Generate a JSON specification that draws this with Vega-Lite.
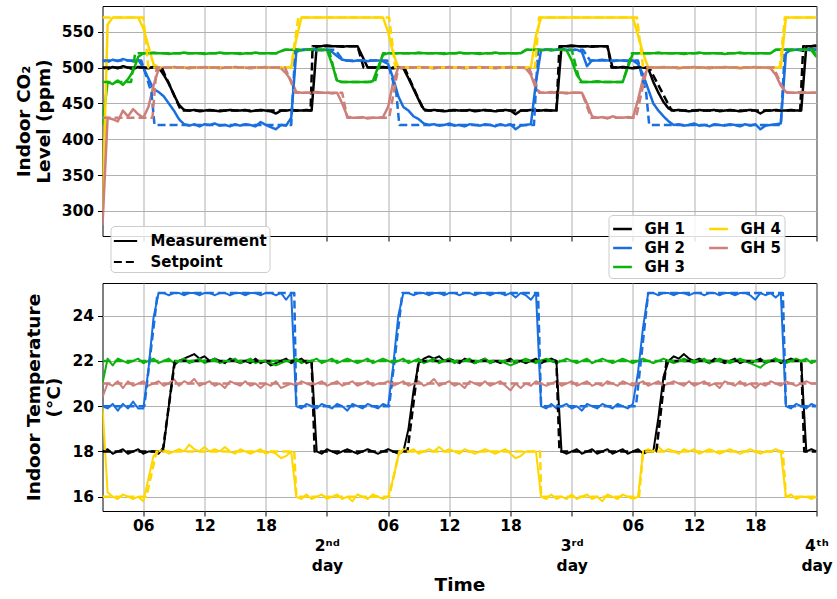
{
"$schema": "https://vega.github.io/schema/vega-lite/v6.json",
"padding": {"left": 13.5, "top": 5, "right": 0, "bottom": 0},
"bounds": "flush",
"spacing": 47,
"config": {
  "font": "DejaVu Sans",
  "view": {"stroke": "black", "strokeWidth": 1},
  "axis": {"labelFont": "DejaVu Sans", "labelFontWeight": "bold", "labelFontSize": 15.5, "labelColor": "black", "titleFont": "DejaVu Sans", "titleFontWeight": "bold", "titleFontSize": 18.5, "titleColor": "black", "gridColor": "#b0b0b0", "gridWidth": 1, "gridOpacity": 1, "tickColor": "black", "tickSize": 5, "tickWidth": 1, "domain": false, "labelPadding": 4, "labelOverlap": false, "labelFlush": false, "labelBound": false},
  "line": {"strokeCap": "butt", "strokeJoin": "round"}
},
"resolve": {"legend": {"color": "independent", "strokeDash": "independent"}},
"datasets": {
"co2": [
{"t":2,"GH 1":500,"GH 2":510,"GH 3":420,"GH 4":300,"GH 5":280},
{"t":2.5,"GH 1":498,"GH 2":508,"GH 3":480,"GH 4":560,"GH 5":430},
{"t":3,"GH 1":501,"GH 2":511,"GH 3":477,"GH 4":570,"GH 5":428},
{"t":3.5,"GH 1":499,"GH 2":509,"GH 3":482,"GH 4":570,"GH 5":425},
{"t":4,"GH 1":502,"GH 2":512,"GH 3":476,"GH 4":570,"GH 5":440},
{"t":4.5,"GH 1":500,"GH 2":510,"GH 3":484,"GH 4":570,"GH 5":432},
{"t":5,"GH 1":498,"GH 2":509,"GH 3":495,"GH 4":570,"GH 5":442},
{"t":5.5,"GH 1":501,"GH 2":511,"GH 3":515,"GH 4":570,"GH 5":435},
{"t":6,"GH 1":500,"GH 2":500,"GH 3":520,"GH 4":555,"GH 5":430},
{"t":6.5,"GH 1":499,"GH 2":485,"GH 3":520,"GH 4":530,"GH 5":445},
{"t":7,"GH 1":501,"GH 2":470,"GH 3":521,"GH 4":505,"GH 5":475},
{"t":7.5,"GH 1":500,"GH 2":466,"GH 3":520,"GH 4":500,"GH 5":498},
{"t":8,"GH 1":490,"GH 2":460,"GH 3":520,"GH 4":500,"GH 5":500},
{"t":8.5,"GH 1":478,"GH 2":450,"GH 3":519,"GH 4":500,"GH 5":500},
{"t":9,"GH 1":462,"GH 2":440,"GH 3":520,"GH 4":500,"GH 5":501},
{"t":9.5,"GH 1":448,"GH 2":428,"GH 3":520,"GH 4":500,"GH 5":500},
{"t":10,"GH 1":441,"GH 2":421,"GH 3":521,"GH 4":500,"GH 5":500},
{"t":10.5,"GH 1":440,"GH 2":419,"GH 3":520,"GH 4":500,"GH 5":499},
{"t":11,"GH 1":441,"GH 2":421,"GH 3":520,"GH 4":500,"GH 5":500},
{"t":11.5,"GH 1":439,"GH 2":418,"GH 3":520,"GH 4":500,"GH 5":500},
{"t":12,"GH 1":440,"GH 2":421,"GH 3":519,"GH 4":500,"GH 5":501},
{"t":12.5,"GH 1":441,"GH 2":420,"GH 3":520,"GH 4":500,"GH 5":500},
{"t":13,"GH 1":440,"GH 2":422,"GH 3":520,"GH 4":500,"GH 5":500},
{"t":13.5,"GH 1":439,"GH 2":419,"GH 3":521,"GH 4":500,"GH 5":499},
{"t":14,"GH 1":440,"GH 2":420,"GH 3":520,"GH 4":500,"GH 5":500},
{"t":14.5,"GH 1":441,"GH 2":418,"GH 3":520,"GH 4":500,"GH 5":500},
{"t":15,"GH 1":440,"GH 2":421,"GH 3":520,"GH 4":500,"GH 5":501},
{"t":15.5,"GH 1":440,"GH 2":419,"GH 3":519,"GH 4":500,"GH 5":500},
{"t":16,"GH 1":441,"GH 2":421,"GH 3":520,"GH 4":500,"GH 5":500},
{"t":16.5,"GH 1":439,"GH 2":420,"GH 3":520,"GH 4":500,"GH 5":499},
{"t":17,"GH 1":440,"GH 2":418,"GH 3":521,"GH 4":500,"GH 5":500},
{"t":17.5,"GH 1":441,"GH 2":424,"GH 3":520,"GH 4":500,"GH 5":500},
{"t":18,"GH 1":440,"GH 2":420,"GH 3":520,"GH 4":500,"GH 5":501},
{"t":18.5,"GH 1":439,"GH 2":417,"GH 3":520,"GH 4":500,"GH 5":500},
{"t":19,"GH 1":436,"GH 2":414,"GH 3":520,"GH 4":500,"GH 5":500},
{"t":19.5,"GH 1":440,"GH 2":420,"GH 3":523,"GH 4":500,"GH 5":499},
{"t":20,"GH 1":440,"GH 2":419,"GH 3":525,"GH 4":500,"GH 5":492},
{"t":20.5,"GH 1":441,"GH 2":430,"GH 3":525,"GH 4":501,"GH 5":482},
{"t":21,"GH 1":440,"GH 2":522,"GH 3":525,"GH 4":540,"GH 5":466},
{"t":21.5,"GH 1":440,"GH 2":525,"GH 3":524,"GH 4":570,"GH 5":465},
{"t":22,"GH 1":441,"GH 2":525,"GH 3":525,"GH 4":570,"GH 5":465},
{"t":22.5,"GH 1":440,"GH 2":526,"GH 3":525,"GH 4":570,"GH 5":465},
{"t":23,"GH 1":530,"GH 2":525,"GH 3":524,"GH 4":570,"GH 5":466},
{"t":23.5,"GH 1":530,"GH 2":524,"GH 3":525,"GH 4":570,"GH 5":465},
{"t":24,"GH 1":531,"GH 2":525,"GH 3":525,"GH 4":570,"GH 5":465},
{"t":24.5,"GH 1":530,"GH 2":522,"GH 3":505,"GH 4":570,"GH 5":464},
{"t":25,"GH 1":530,"GH 2":516,"GH 3":482,"GH 4":570,"GH 5":465},
{"t":25.5,"GH 1":529,"GH 2":511,"GH 3":480,"GH 4":570,"GH 5":450},
{"t":26,"GH 1":530,"GH 2":510,"GH 3":480,"GH 4":570,"GH 5":432},
{"t":26.5,"GH 1":530,"GH 2":509,"GH 3":480,"GH 4":570,"GH 5":430},
{"t":27,"GH 1":530,"GH 2":510,"GH 3":480,"GH 4":570,"GH 5":430},
{"t":27.5,"GH 1":515,"GH 2":510,"GH 3":480,"GH 4":570,"GH 5":431},
{"t":28,"GH 1":500,"GH 2":509,"GH 3":480,"GH 4":570,"GH 5":429},
{"t":28.5,"GH 1":500,"GH 2":510,"GH 3":481,"GH 4":570,"GH 5":430},
{"t":29,"GH 1":500,"GH 2":510,"GH 3":500,"GH 4":570,"GH 5":430},
{"t":29.5,"GH 1":501,"GH 2":509,"GH 3":518,"GH 4":570,"GH 5":431},
{"t":30,"GH 1":500,"GH 2":505,"GH 3":520,"GH 4":550,"GH 5":445},
{"t":30.5,"GH 1":499,"GH 2":485,"GH 3":520,"GH 4":520,"GH 5":480},
{"t":31,"GH 1":500,"GH 2":460,"GH 3":520,"GH 4":500,"GH 5":500},
{"t":31.5,"GH 1":499,"GH 2":445,"GH 3":520,"GH 4":500,"GH 5":500},
{"t":32,"GH 1":485,"GH 2":440,"GH 3":520,"GH 4":500,"GH 5":500},
{"t":32.5,"GH 1":470,"GH 2":432,"GH 3":520,"GH 4":500,"GH 5":500},
{"t":33,"GH 1":455,"GH 2":428,"GH 3":521,"GH 4":500,"GH 5":501},
{"t":33.5,"GH 1":442,"GH 2":422,"GH 3":520,"GH 4":500,"GH 5":500},
{"t":34,"GH 1":440,"GH 2":420,"GH 3":520,"GH 4":500,"GH 5":500},
{"t":34.5,"GH 1":441,"GH 2":421,"GH 3":520,"GH 4":500,"GH 5":499},
{"t":35,"GH 1":440,"GH 2":419,"GH 3":520,"GH 4":500,"GH 5":500},
{"t":35.5,"GH 1":439,"GH 2":420,"GH 3":519,"GH 4":500,"GH 5":500},
{"t":36,"GH 1":440,"GH 2":422,"GH 3":520,"GH 4":500,"GH 5":501},
{"t":36.5,"GH 1":441,"GH 2":419,"GH 3":520,"GH 4":500,"GH 5":500},
{"t":37,"GH 1":440,"GH 2":420,"GH 3":521,"GH 4":500,"GH 5":500},
{"t":37.5,"GH 1":440,"GH 2":418,"GH 3":520,"GH 4":500,"GH 5":499},
{"t":38,"GH 1":441,"GH 2":421,"GH 3":520,"GH 4":500,"GH 5":500},
{"t":38.5,"GH 1":439,"GH 2":420,"GH 3":520,"GH 4":500,"GH 5":500},
{"t":39,"GH 1":440,"GH 2":419,"GH 3":519,"GH 4":500,"GH 5":501},
{"t":39.5,"GH 1":441,"GH 2":421,"GH 3":520,"GH 4":500,"GH 5":500},
{"t":40,"GH 1":440,"GH 2":420,"GH 3":520,"GH 4":500,"GH 5":500},
{"t":40.5,"GH 1":439,"GH 2":418,"GH 3":521,"GH 4":500,"GH 5":499},
{"t":41,"GH 1":440,"GH 2":421,"GH 3":520,"GH 4":500,"GH 5":500},
{"t":41.5,"GH 1":441,"GH 2":419,"GH 3":520,"GH 4":500,"GH 5":500},
{"t":42,"GH 1":440,"GH 2":421,"GH 3":520,"GH 4":500,"GH 5":501},
{"t":42.5,"GH 1":435,"GH 2":414,"GH 3":520,"GH 4":500,"GH 5":500},
{"t":43,"GH 1":440,"GH 2":419,"GH 3":520,"GH 4":500,"GH 5":500},
{"t":43.5,"GH 1":440,"GH 2":420,"GH 3":525,"GH 4":500,"GH 5":499},
{"t":44,"GH 1":441,"GH 2":421,"GH 3":525,"GH 4":500,"GH 5":490},
{"t":44.5,"GH 1":440,"GH 2":480,"GH 3":525,"GH 4":545,"GH 5":470},
{"t":45,"GH 1":440,"GH 2":525,"GH 3":524,"GH 4":570,"GH 5":465},
{"t":45.5,"GH 1":441,"GH 2":525,"GH 3":525,"GH 4":570,"GH 5":465},
{"t":46,"GH 1":440,"GH 2":524,"GH 3":525,"GH 4":570,"GH 5":466},
{"t":46.5,"GH 1":440,"GH 2":525,"GH 3":525,"GH 4":570,"GH 5":465},
{"t":47,"GH 1":530,"GH 2":526,"GH 3":525,"GH 4":570,"GH 5":465},
{"t":47.5,"GH 1":530,"GH 2":525,"GH 3":524,"GH 4":570,"GH 5":464},
{"t":48,"GH 1":531,"GH 2":524,"GH 3":510,"GH 4":570,"GH 5":465},
{"t":48.5,"GH 1":530,"GH 2":525,"GH 3":490,"GH 4":570,"GH 5":465},
{"t":49,"GH 1":530,"GH 2":522,"GH 3":480,"GH 4":570,"GH 5":465},
{"t":49.5,"GH 1":530,"GH 2":502,"GH 3":480,"GH 4":570,"GH 5":450},
{"t":50,"GH 1":529,"GH 2":510,"GH 3":480,"GH 4":570,"GH 5":432},
{"t":50.5,"GH 1":530,"GH 2":510,"GH 3":481,"GH 4":570,"GH 5":430},
{"t":51,"GH 1":530,"GH 2":511,"GH 3":480,"GH 4":570,"GH 5":431},
{"t":51.5,"GH 1":530,"GH 2":510,"GH 3":480,"GH 4":570,"GH 5":429},
{"t":52,"GH 1":500,"GH 2":509,"GH 3":480,"GH 4":570,"GH 5":432},
{"t":52.5,"GH 1":500,"GH 2":510,"GH 3":480,"GH 4":570,"GH 5":430},
{"t":53,"GH 1":501,"GH 2":510,"GH 3":480,"GH 4":570,"GH 5":430},
{"t":53.5,"GH 1":500,"GH 2":509,"GH 3":500,"GH 4":570,"GH 5":431},
{"t":54,"GH 1":499,"GH 2":510,"GH 3":520,"GH 4":570,"GH 5":430},
{"t":54.5,"GH 1":500,"GH 2":505,"GH 3":520,"GH 4":545,"GH 5":455},
{"t":55,"GH 1":500,"GH 2":490,"GH 3":520,"GH 4":520,"GH 5":485},
{"t":55.5,"GH 1":499,"GH 2":470,"GH 3":520,"GH 4":500,"GH 5":500},
{"t":56,"GH 1":480,"GH 2":450,"GH 3":520,"GH 4":500,"GH 5":500},
{"t":56.5,"GH 1":465,"GH 2":440,"GH 3":521,"GH 4":500,"GH 5":500},
{"t":57,"GH 1":452,"GH 2":432,"GH 3":520,"GH 4":500,"GH 5":501},
{"t":57.5,"GH 1":443,"GH 2":425,"GH 3":520,"GH 4":500,"GH 5":500},
{"t":58,"GH 1":440,"GH 2":420,"GH 3":520,"GH 4":500,"GH 5":500},
{"t":58.5,"GH 1":441,"GH 2":421,"GH 3":520,"GH 4":500,"GH 5":499},
{"t":59,"GH 1":440,"GH 2":419,"GH 3":519,"GH 4":500,"GH 5":500},
{"t":59.5,"GH 1":439,"GH 2":420,"GH 3":520,"GH 4":500,"GH 5":500},
{"t":60,"GH 1":440,"GH 2":422,"GH 3":520,"GH 4":500,"GH 5":501},
{"t":60.5,"GH 1":441,"GH 2":419,"GH 3":521,"GH 4":500,"GH 5":500},
{"t":61,"GH 1":440,"GH 2":420,"GH 3":520,"GH 4":500,"GH 5":500},
{"t":61.5,"GH 1":440,"GH 2":418,"GH 3":520,"GH 4":500,"GH 5":499},
{"t":62,"GH 1":441,"GH 2":421,"GH 3":520,"GH 4":500,"GH 5":500},
{"t":62.5,"GH 1":439,"GH 2":420,"GH 3":520,"GH 4":500,"GH 5":500},
{"t":63,"GH 1":440,"GH 2":419,"GH 3":519,"GH 4":500,"GH 5":501},
{"t":63.5,"GH 1":441,"GH 2":421,"GH 3":520,"GH 4":500,"GH 5":500},
{"t":64,"GH 1":440,"GH 2":420,"GH 3":520,"GH 4":500,"GH 5":500},
{"t":64.5,"GH 1":439,"GH 2":418,"GH 3":521,"GH 4":500,"GH 5":499},
{"t":65,"GH 1":440,"GH 2":421,"GH 3":520,"GH 4":500,"GH 5":500},
{"t":65.5,"GH 1":441,"GH 2":419,"GH 3":520,"GH 4":500,"GH 5":500},
{"t":66,"GH 1":440,"GH 2":421,"GH 3":520,"GH 4":500,"GH 5":501},
{"t":66.5,"GH 1":436,"GH 2":414,"GH 3":520,"GH 4":500,"GH 5":500},
{"t":67,"GH 1":440,"GH 2":419,"GH 3":520,"GH 4":500,"GH 5":500},
{"t":67.5,"GH 1":440,"GH 2":420,"GH 3":520,"GH 4":500,"GH 5":499},
{"t":68,"GH 1":441,"GH 2":421,"GH 3":525,"GH 4":500,"GH 5":490},
{"t":68.5,"GH 1":440,"GH 2":422,"GH 3":525,"GH 4":500,"GH 5":475},
{"t":69,"GH 1":440,"GH 2":520,"GH 3":525,"GH 4":570,"GH 5":466},
{"t":69.5,"GH 1":441,"GH 2":525,"GH 3":524,"GH 4":570,"GH 5":465},
{"t":70,"GH 1":440,"GH 2":525,"GH 3":525,"GH 4":570,"GH 5":465},
{"t":70.5,"GH 1":440,"GH 2":524,"GH 3":525,"GH 4":570,"GH 5":466},
{"t":71,"GH 1":530,"GH 2":525,"GH 3":525,"GH 4":570,"GH 5":465},
{"t":71.5,"GH 1":530,"GH 2":526,"GH 3":524,"GH 4":570,"GH 5":465},
{"t":72,"GH 1":531,"GH 2":525,"GH 3":515,"GH 4":570,"GH 5":465}
],
"temp": [
{"t":2,"GH 1":18.0,"GH 2":20.0,"GH 3":21.0,"GH 4":20.0,"GH 5":20.4},
{"t":2.5,"GH 1":18.1,"GH 2":19.9,"GH 3":22.1,"GH 4":16.2,"GH 5":21.0},
{"t":3,"GH 1":17.9,"GH 2":20.1,"GH 3":21.8,"GH 4":16.0,"GH 5":20.9},
{"t":3.5,"GH 1":18.0,"GH 2":19.8,"GH 3":22.1,"GH 4":15.9,"GH 5":21.1},
{"t":4,"GH 1":18.1,"GH 2":20.1,"GH 3":22.0,"GH 4":16.1,"GH 5":20.8},
{"t":4.5,"GH 1":17.9,"GH 2":19.9,"GH 3":21.9,"GH 4":16.0,"GH 5":21.1},
{"t":5,"GH 1":18.0,"GH 2":20.2,"GH 3":22.0,"GH 4":15.9,"GH 5":20.9},
{"t":5.5,"GH 1":18.1,"GH 2":19.9,"GH 3":22.1,"GH 4":16.0,"GH 5":21.0},
{"t":6,"GH 1":17.9,"GH 2":19.9,"GH 3":21.9,"GH 4":15.8,"GH 5":21.1},
{"t":6.5,"GH 1":18.0,"GH 2":21.6,"GH 3":22.0,"GH 4":16.8,"GH 5":20.9},
{"t":7,"GH 1":18.0,"GH 2":23.9,"GH 3":22.1,"GH 4":17.8,"GH 5":21.0},
{"t":7.5,"GH 1":17.9,"GH 2":25.0,"GH 3":21.9,"GH 4":18.0,"GH 5":21.1},
{"t":8,"GH 1":18.2,"GH 2":25.0,"GH 3":22.0,"GH 4":18.1,"GH 5":20.9},
{"t":8.5,"GH 1":20.0,"GH 2":24.9,"GH 3":22.1,"GH 4":17.9,"GH 5":21.0},
{"t":9,"GH 1":21.8,"GH 2":25.0,"GH 3":21.9,"GH 4":18.0,"GH 5":21.2},
{"t":9.5,"GH 1":22.0,"GH 2":25.0,"GH 3":22.0,"GH 4":18.1,"GH 5":20.9},
{"t":10,"GH 1":22.1,"GH 2":24.9,"GH 3":22.1,"GH 4":18.0,"GH 5":21.1},
{"t":10.5,"GH 1":22.2,"GH 2":25.0,"GH 3":21.9,"GH 4":18.3,"GH 5":21.0},
{"t":11,"GH 1":22.3,"GH 2":25.0,"GH 3":22.0,"GH 4":18.1,"GH 5":21.2},
{"t":11.5,"GH 1":22.1,"GH 2":24.9,"GH 3":22.1,"GH 4":18.0,"GH 5":20.9},
{"t":12,"GH 1":22.2,"GH 2":25.0,"GH 3":21.9,"GH 4":18.2,"GH 5":21.0},
{"t":12.5,"GH 1":22.0,"GH 2":25.0,"GH 3":22.0,"GH 4":18.0,"GH 5":21.1},
{"t":13,"GH 1":22.1,"GH 2":24.9,"GH 3":22.1,"GH 4":18.1,"GH 5":20.9},
{"t":13.5,"GH 1":22.0,"GH 2":25.0,"GH 3":21.9,"GH 4":18.0,"GH 5":21.0},
{"t":14,"GH 1":21.9,"GH 2":25.0,"GH 3":22.0,"GH 4":18.2,"GH 5":20.8},
{"t":14.5,"GH 1":22.1,"GH 2":24.9,"GH 3":22.0,"GH 4":18.0,"GH 5":21.1},
{"t":15,"GH 1":22.0,"GH 2":25.0,"GH 3":22.1,"GH 4":17.9,"GH 5":21.0},
{"t":15.5,"GH 1":21.9,"GH 2":25.0,"GH 3":21.9,"GH 4":18.1,"GH 5":20.9},
{"t":16,"GH 1":22.0,"GH 2":24.9,"GH 3":22.0,"GH 4":18.0,"GH 5":21.1},
{"t":16.5,"GH 1":21.9,"GH 2":25.0,"GH 3":22.1,"GH 4":17.9,"GH 5":20.9},
{"t":17,"GH 1":22.1,"GH 2":25.0,"GH 3":21.9,"GH 4":18.0,"GH 5":21.0},
{"t":17.5,"GH 1":21.9,"GH 2":24.9,"GH 3":22.0,"GH 4":18.1,"GH 5":20.8},
{"t":18,"GH 1":22.0,"GH 2":25.0,"GH 3":22.0,"GH 4":17.9,"GH 5":21.0},
{"t":18.5,"GH 1":21.8,"GH 2":25.0,"GH 3":21.9,"GH 4":18.0,"GH 5":20.9},
{"t":19,"GH 1":21.9,"GH 2":24.9,"GH 3":21.8,"GH 4":17.9,"GH 5":21.1},
{"t":19.5,"GH 1":22.0,"GH 2":25.0,"GH 3":21.9,"GH 4":17.7,"GH 5":20.8},
{"t":20,"GH 1":22.1,"GH 2":24.7,"GH 3":22.0,"GH 4":17.8,"GH 5":20.9},
{"t":20.5,"GH 1":21.9,"GH 2":25.0,"GH 3":22.0,"GH 4":18.0,"GH 5":21.0},
{"t":21,"GH 1":22.0,"GH 2":20.0,"GH 3":22.1,"GH 4":16.0,"GH 5":20.9},
{"t":21.5,"GH 1":22.1,"GH 2":19.9,"GH 3":21.9,"GH 4":15.9,"GH 5":21.1},
{"t":22,"GH 1":21.9,"GH 2":20.1,"GH 3":22.0,"GH 4":16.1,"GH 5":21.0},
{"t":22.5,"GH 1":22.0,"GH 2":20.0,"GH 3":22.0,"GH 4":15.9,"GH 5":20.9},
{"t":23,"GH 1":18.0,"GH 2":19.9,"GH 3":22.1,"GH 4":16.0,"GH 5":21.0},
{"t":23.5,"GH 1":17.9,"GH 2":20.1,"GH 3":21.9,"GH 4":16.1,"GH 5":21.1},
{"t":24,"GH 1":18.1,"GH 2":20.0,"GH 3":22.0,"GH 4":15.9,"GH 5":20.9},
{"t":24.5,"GH 1":18.0,"GH 2":19.9,"GH 3":22.1,"GH 4":16.0,"GH 5":21.0},
{"t":25,"GH 1":17.9,"GH 2":20.1,"GH 3":21.9,"GH 4":16.1,"GH 5":21.1},
{"t":25.5,"GH 1":18.0,"GH 2":20.0,"GH 3":22.0,"GH 4":15.9,"GH 5":20.9},
{"t":26,"GH 1":18.1,"GH 2":19.8,"GH 3":22.1,"GH 4":16.0,"GH 5":21.0},
{"t":26.5,"GH 1":18.0,"GH 2":20.1,"GH 3":22.0,"GH 4":15.8,"GH 5":21.1},
{"t":27,"GH 1":17.9,"GH 2":20.0,"GH 3":21.9,"GH 4":16.1,"GH 5":20.9},
{"t":27.5,"GH 1":18.0,"GH 2":19.9,"GH 3":22.0,"GH 4":16.0,"GH 5":21.0},
{"t":28,"GH 1":18.1,"GH 2":20.1,"GH 3":22.1,"GH 4":15.9,"GH 5":21.1},
{"t":28.5,"GH 1":18.0,"GH 2":20.0,"GH 3":21.9,"GH 4":16.1,"GH 5":20.9},
{"t":29,"GH 1":17.9,"GH 2":19.9,"GH 3":22.0,"GH 4":16.0,"GH 5":21.0},
{"t":29.5,"GH 1":18.0,"GH 2":20.1,"GH 3":22.1,"GH 4":15.9,"GH 5":21.0},
{"t":30,"GH 1":18.1,"GH 2":20.0,"GH 3":22.0,"GH 4":16.0,"GH 5":21.1},
{"t":30.5,"GH 1":18.0,"GH 2":21.8,"GH 3":21.9,"GH 4":16.8,"GH 5":20.9},
{"t":31,"GH 1":17.9,"GH 2":24.0,"GH 3":22.0,"GH 4":17.8,"GH 5":21.0},
{"t":31.5,"GH 1":18.0,"GH 2":25.0,"GH 3":22.1,"GH 4":18.1,"GH 5":21.1},
{"t":32,"GH 1":19.0,"GH 2":25.0,"GH 3":21.9,"GH 4":18.0,"GH 5":20.9},
{"t":32.5,"GH 1":20.7,"GH 2":24.9,"GH 3":22.0,"GH 4":18.1,"GH 5":21.0},
{"t":33,"GH 1":21.9,"GH 2":25.0,"GH 3":22.1,"GH 4":17.9,"GH 5":21.1},
{"t":33.5,"GH 1":22.1,"GH 2":25.0,"GH 3":21.9,"GH 4":18.0,"GH 5":20.9},
{"t":34,"GH 1":22.2,"GH 2":24.9,"GH 3":22.0,"GH 4":18.1,"GH 5":21.0},
{"t":34.5,"GH 1":22.1,"GH 2":25.0,"GH 3":22.1,"GH 4":18.0,"GH 5":21.2},
{"t":35,"GH 1":22.2,"GH 2":25.0,"GH 3":21.9,"GH 4":18.2,"GH 5":20.9},
{"t":35.5,"GH 1":22.0,"GH 2":24.9,"GH 3":22.0,"GH 4":18.0,"GH 5":21.0},
{"t":36,"GH 1":22.1,"GH 2":25.0,"GH 3":22.1,"GH 4":18.1,"GH 5":21.1},
{"t":36.5,"GH 1":22.0,"GH 2":25.0,"GH 3":21.9,"GH 4":18.0,"GH 5":20.9},
{"t":37,"GH 1":21.9,"GH 2":24.9,"GH 3":22.0,"GH 4":17.9,"GH 5":21.0},
{"t":37.5,"GH 1":22.1,"GH 2":25.0,"GH 3":22.0,"GH 4":18.1,"GH 5":20.8},
{"t":38,"GH 1":22.0,"GH 2":25.0,"GH 3":22.1,"GH 4":18.0,"GH 5":21.1},
{"t":38.5,"GH 1":21.9,"GH 2":24.9,"GH 3":21.9,"GH 4":17.9,"GH 5":21.0},
{"t":39,"GH 1":22.0,"GH 2":25.0,"GH 3":22.0,"GH 4":18.0,"GH 5":20.9},
{"t":39.5,"GH 1":22.1,"GH 2":25.0,"GH 3":22.1,"GH 4":18.1,"GH 5":21.1},
{"t":40,"GH 1":21.9,"GH 2":24.9,"GH 3":21.9,"GH 4":18.0,"GH 5":20.9},
{"t":40.5,"GH 1":22.0,"GH 2":25.0,"GH 3":22.0,"GH 4":17.9,"GH 5":21.0},
{"t":41,"GH 1":21.9,"GH 2":25.0,"GH 3":22.0,"GH 4":18.0,"GH 5":21.1},
{"t":41.5,"GH 1":22.0,"GH 2":24.9,"GH 3":21.9,"GH 4":18.1,"GH 5":20.9},
{"t":42,"GH 1":22.1,"GH 2":25.0,"GH 3":21.8,"GH 4":17.9,"GH 5":20.7},
{"t":42.5,"GH 1":21.9,"GH 2":24.8,"GH 3":21.9,"GH 4":17.7,"GH 5":21.0},
{"t":43,"GH 1":22.0,"GH 2":25.0,"GH 3":22.0,"GH 4":17.8,"GH 5":20.8},
{"t":43.5,"GH 1":21.9,"GH 2":24.9,"GH 3":22.1,"GH 4":18.0,"GH 5":21.0},
{"t":44,"GH 1":22.0,"GH 2":24.7,"GH 3":22.0,"GH 4":18.0,"GH 5":20.9},
{"t":44.5,"GH 1":22.1,"GH 2":25.0,"GH 3":21.9,"GH 4":18.0,"GH 5":21.1},
{"t":45,"GH 1":21.9,"GH 2":20.0,"GH 3":22.0,"GH 4":16.0,"GH 5":21.0},
{"t":45.5,"GH 1":22.0,"GH 2":19.9,"GH 3":22.1,"GH 4":15.9,"GH 5":20.9},
{"t":46,"GH 1":22.1,"GH 2":20.1,"GH 3":22.0,"GH 4":16.1,"GH 5":21.0},
{"t":46.5,"GH 1":22.0,"GH 2":19.9,"GH 3":21.9,"GH 4":15.9,"GH 5":21.1},
{"t":47,"GH 1":18.0,"GH 2":20.0,"GH 3":22.0,"GH 4":16.0,"GH 5":20.9},
{"t":47.5,"GH 1":17.9,"GH 2":20.1,"GH 3":22.1,"GH 4":15.9,"GH 5":21.0},
{"t":48,"GH 1":18.0,"GH 2":19.9,"GH 3":22.0,"GH 4":16.1,"GH 5":21.1},
{"t":48.5,"GH 1":18.1,"GH 2":20.0,"GH 3":21.9,"GH 4":15.9,"GH 5":20.9},
{"t":49,"GH 1":17.9,"GH 2":19.8,"GH 3":22.0,"GH 4":16.0,"GH 5":21.0},
{"t":49.5,"GH 1":18.0,"GH 2":20.1,"GH 3":22.1,"GH 4":16.1,"GH 5":21.1},
{"t":50,"GH 1":18.1,"GH 2":20.0,"GH 3":21.9,"GH 4":15.9,"GH 5":20.9},
{"t":50.5,"GH 1":17.9,"GH 2":19.9,"GH 3":22.0,"GH 4":16.0,"GH 5":21.0},
{"t":51,"GH 1":18.0,"GH 2":20.1,"GH 3":22.1,"GH 4":15.8,"GH 5":20.9},
{"t":51.5,"GH 1":18.1,"GH 2":20.0,"GH 3":22.0,"GH 4":16.1,"GH 5":21.1},
{"t":52,"GH 1":17.9,"GH 2":19.9,"GH 3":21.9,"GH 4":16.0,"GH 5":21.0},
{"t":52.5,"GH 1":18.0,"GH 2":20.1,"GH 3":22.0,"GH 4":15.9,"GH 5":20.9},
{"t":53,"GH 1":18.1,"GH 2":20.0,"GH 3":22.1,"GH 4":16.1,"GH 5":21.1},
{"t":53.5,"GH 1":17.9,"GH 2":19.9,"GH 3":22.0,"GH 4":16.0,"GH 5":21.0},
{"t":54,"GH 1":18.0,"GH 2":20.1,"GH 3":21.9,"GH 4":15.9,"GH 5":20.9},
{"t":54.5,"GH 1":18.1,"GH 2":21.5,"GH 3":22.0,"GH 4":16.0,"GH 5":21.0},
{"t":55,"GH 1":17.9,"GH 2":23.5,"GH 3":22.1,"GH 4":18.0,"GH 5":21.1},
{"t":55.5,"GH 1":18.0,"GH 2":25.0,"GH 3":22.0,"GH 4":18.1,"GH 5":20.9},
{"t":56,"GH 1":18.0,"GH 2":25.0,"GH 3":21.9,"GH 4":18.0,"GH 5":21.0},
{"t":56.5,"GH 1":19.5,"GH 2":24.9,"GH 3":22.0,"GH 4":18.2,"GH 5":21.1},
{"t":57,"GH 1":21.3,"GH 2":25.0,"GH 3":22.1,"GH 4":18.0,"GH 5":20.9},
{"t":57.5,"GH 1":22.0,"GH 2":25.0,"GH 3":22.0,"GH 4":18.1,"GH 5":21.0},
{"t":58,"GH 1":22.2,"GH 2":24.9,"GH 3":21.9,"GH 4":18.0,"GH 5":21.1},
{"t":58.5,"GH 1":22.1,"GH 2":25.0,"GH 3":22.0,"GH 4":17.9,"GH 5":21.0},
{"t":59,"GH 1":22.3,"GH 2":25.0,"GH 3":22.1,"GH 4":18.1,"GH 5":20.9},
{"t":59.5,"GH 1":22.1,"GH 2":24.9,"GH 3":22.0,"GH 4":18.0,"GH 5":21.1},
{"t":60,"GH 1":22.0,"GH 2":25.0,"GH 3":21.9,"GH 4":18.1,"GH 5":20.9},
{"t":60.5,"GH 1":22.1,"GH 2":25.0,"GH 3":22.0,"GH 4":17.9,"GH 5":21.0},
{"t":61,"GH 1":22.0,"GH 2":24.9,"GH 3":22.1,"GH 4":18.0,"GH 5":21.1},
{"t":61.5,"GH 1":21.9,"GH 2":25.0,"GH 3":21.9,"GH 4":18.1,"GH 5":20.9},
{"t":62,"GH 1":22.1,"GH 2":25.0,"GH 3":22.0,"GH 4":18.0,"GH 5":21.0},
{"t":62.5,"GH 1":22.0,"GH 2":24.9,"GH 3":22.1,"GH 4":17.9,"GH 5":20.8},
{"t":63,"GH 1":21.9,"GH 2":25.0,"GH 3":22.0,"GH 4":18.0,"GH 5":21.1},
{"t":63.5,"GH 1":22.0,"GH 2":25.0,"GH 3":21.9,"GH 4":18.1,"GH 5":21.0},
{"t":64,"GH 1":22.1,"GH 2":24.9,"GH 3":22.0,"GH 4":18.0,"GH 5":20.9},
{"t":64.5,"GH 1":21.9,"GH 2":25.0,"GH 3":22.1,"GH 4":17.9,"GH 5":21.1},
{"t":65,"GH 1":22.0,"GH 2":25.0,"GH 3":22.0,"GH 4":18.0,"GH 5":20.9},
{"t":65.5,"GH 1":21.9,"GH 2":24.9,"GH 3":21.9,"GH 4":18.1,"GH 5":21.0},
{"t":66,"GH 1":22.0,"GH 2":24.7,"GH 3":21.8,"GH 4":18.0,"GH 5":20.8},
{"t":66.5,"GH 1":22.1,"GH 2":25.0,"GH 3":21.7,"GH 4":17.9,"GH 5":21.0},
{"t":67,"GH 1":21.9,"GH 2":24.9,"GH 3":21.9,"GH 4":18.0,"GH 5":20.9},
{"t":67.5,"GH 1":22.0,"GH 2":25.0,"GH 3":22.0,"GH 4":18.0,"GH 5":21.1},
{"t":68,"GH 1":22.1,"GH 2":24.8,"GH 3":22.1,"GH 4":18.1,"GH 5":21.0},
{"t":68.5,"GH 1":21.9,"GH 2":25.0,"GH 3":22.0,"GH 4":18.0,"GH 5":20.9},
{"t":69,"GH 1":22.0,"GH 2":20.0,"GH 3":21.9,"GH 4":16.0,"GH 5":21.1},
{"t":69.5,"GH 1":22.1,"GH 2":19.9,"GH 3":22.0,"GH 4":16.1,"GH 5":21.0},
{"t":70,"GH 1":22.0,"GH 2":20.1,"GH 3":22.1,"GH 4":15.9,"GH 5":20.9},
{"t":70.5,"GH 1":22.0,"GH 2":20.0,"GH 3":22.0,"GH 4":16.0,"GH 5":21.0},
{"t":71,"GH 1":18.0,"GH 2":19.9,"GH 3":22.1,"GH 4":16.0,"GH 5":21.1},
{"t":71.5,"GH 1":18.1,"GH 2":20.1,"GH 3":21.9,"GH 4":15.9,"GH 5":21.0},
{"t":72,"GH 1":18.0,"GH 2":20.0,"GH 3":22.0,"GH 4":16.0,"GH 5":21.0}
],
"co2sp": [
{"t":2,"gh":"GH 1","v":500},{"t":7.8,"gh":"GH 1","v":500},{"t":9.7,"gh":"GH 1","v":440},{"t":22.4,"gh":"GH 1","v":440},{"t":22.6,"gh":"GH 1","v":530},{"t":27.0,"gh":"GH 1","v":530},{"t":27.6,"gh":"GH 1","v":500},{"t":31.6,"gh":"GH 1","v":500},{"t":33.5,"gh":"GH 1","v":440},{"t":46.5,"gh":"GH 1","v":440},{"t":46.8,"gh":"GH 1","v":530},{"t":51.5,"gh":"GH 1","v":530},{"t":51.9,"gh":"GH 1","v":500},{"t":55.6,"gh":"GH 1","v":500},{"t":57.8,"gh":"GH 1","v":440},{"t":70.4,"gh":"GH 1","v":440},{"t":70.7,"gh":"GH 1","v":530},{"t":72,"gh":"GH 1","v":530},
{"t":2,"gh":"GH 2","v":510},{"t":5.8,"gh":"GH 2","v":510},{"t":6.8,"gh":"GH 2","v":465},{"t":7.1,"gh":"GH 2","v":420},{"t":20.5,"gh":"GH 2","v":420},{"t":20.9,"gh":"GH 2","v":525},{"t":24.8,"gh":"GH 2","v":525},{"t":25.6,"gh":"GH 2","v":510},{"t":29.9,"gh":"GH 2","v":510},{"t":30.8,"gh":"GH 2","v":465},{"t":31.1,"gh":"GH 2","v":420},{"t":44.3,"gh":"GH 2","v":420},{"t":44.7,"gh":"GH 2","v":525},{"t":49.1,"gh":"GH 2","v":525},{"t":49.8,"gh":"GH 2","v":510},{"t":54.5,"gh":"GH 2","v":510},{"t":55.3,"gh":"GH 2","v":465},{"t":55.6,"gh":"GH 2","v":420},{"t":68.5,"gh":"GH 2","v":420},{"t":68.9,"gh":"GH 2","v":525},{"t":72,"gh":"GH 2","v":525},
{"t":2,"gh":"GH 3","v":480},{"t":4.8,"gh":"GH 3","v":480},{"t":5.2,"gh":"GH 3","v":520},{"t":19.2,"gh":"GH 3","v":520},{"t":19.8,"gh":"GH 3","v":525},{"t":24.2,"gh":"GH 3","v":525},{"t":25.0,"gh":"GH 3","v":480},{"t":28.7,"gh":"GH 3","v":480},{"t":29.5,"gh":"GH 3","v":520},{"t":43.0,"gh":"GH 3","v":520},{"t":43.6,"gh":"GH 3","v":525},{"t":48.0,"gh":"GH 3","v":525},{"t":48.8,"gh":"GH 3","v":480},{"t":53.0,"gh":"GH 3","v":480},{"t":53.9,"gh":"GH 3","v":520},{"t":67.4,"gh":"GH 3","v":520},{"t":68.0,"gh":"GH 3","v":525},{"t":71.7,"gh":"GH 3","v":525},{"t":72,"gh":"GH 3","v":515},
{"t":2,"gh":"GH 4","v":570},{"t":6.0,"gh":"GH 4","v":570},{"t":6.5,"gh":"GH 4","v":500},{"t":20.5,"gh":"GH 4","v":500},{"t":21.2,"gh":"GH 4","v":570},{"t":30.1,"gh":"GH 4","v":570},{"t":30.7,"gh":"GH 4","v":500},{"t":44.4,"gh":"GH 4","v":500},{"t":44.8,"gh":"GH 4","v":570},{"t":54.4,"gh":"GH 4","v":570},{"t":55.0,"gh":"GH 4","v":500},{"t":68.4,"gh":"GH 4","v":500},{"t":68.9,"gh":"GH 4","v":570},{"t":72,"gh":"GH 4","v":570},
{"t":2,"gh":"GH 5","v":430},{"t":6.9,"gh":"GH 5","v":430},{"t":7.3,"gh":"GH 5","v":500},{"t":19.9,"gh":"GH 5","v":500},{"t":20.9,"gh":"GH 5","v":465},{"t":25.5,"gh":"GH 5","v":465},{"t":26.0,"gh":"GH 5","v":430},{"t":30.1,"gh":"GH 5","v":430},{"t":31.0,"gh":"GH 5","v":500},{"t":43.8,"gh":"GH 5","v":500},{"t":44.8,"gh":"GH 5","v":465},{"t":49.0,"gh":"GH 5","v":465},{"t":49.9,"gh":"GH 5","v":430},{"t":54.3,"gh":"GH 5","v":430},{"t":55.4,"gh":"GH 5","v":500},{"t":67.8,"gh":"GH 5","v":500},{"t":68.9,"gh":"GH 5","v":465},{"t":72,"gh":"GH 5","v":465}
],
"tempsp": [
{"t":2,"gh":"GH 1","v":18},{"t":7.9,"gh":"GH 1","v":18},{"t":9.1,"gh":"GH 1","v":22},{"t":22.5,"gh":"GH 1","v":22},{"t":22.8,"gh":"GH 1","v":18},{"t":31.9,"gh":"GH 1","v":18},{"t":33.0,"gh":"GH 1","v":22},{"t":46.5,"gh":"GH 1","v":22},{"t":46.8,"gh":"GH 1","v":18},{"t":56.3,"gh":"GH 1","v":18},{"t":57.3,"gh":"GH 1","v":22},{"t":70.5,"gh":"GH 1","v":22},{"t":70.8,"gh":"GH 1","v":18},{"t":72,"gh":"GH 1","v":18},
{"t":2,"gh":"GH 2","v":20},{"t":6.1,"gh":"GH 2","v":20},{"t":7.4,"gh":"GH 2","v":25},{"t":20.8,"gh":"GH 2","v":25},{"t":21.0,"gh":"GH 2","v":20},{"t":30.1,"gh":"GH 2","v":20},{"t":31.4,"gh":"GH 2","v":25},{"t":44.7,"gh":"GH 2","v":25},{"t":45.0,"gh":"GH 2","v":20},{"t":54.3,"gh":"GH 2","v":20},{"t":55.5,"gh":"GH 2","v":25},{"t":68.7,"gh":"GH 2","v":25},{"t":69.0,"gh":"GH 2","v":20},{"t":72,"gh":"GH 2","v":20},
{"t":2,"gh":"GH 3","v":22},{"t":72,"gh":"GH 3","v":22},
{"t":2,"gh":"GH 4","v":16},{"t":6.3,"gh":"GH 4","v":16},{"t":7.3,"gh":"GH 4","v":18},{"t":20.8,"gh":"GH 4","v":18},{"t":21.0,"gh":"GH 4","v":16},{"t":30.1,"gh":"GH 4","v":16},{"t":31.1,"gh":"GH 4","v":18},{"t":44.9,"gh":"GH 4","v":18},{"t":45.0,"gh":"GH 4","v":16},{"t":54.6,"gh":"GH 4","v":16},{"t":55.0,"gh":"GH 4","v":18},{"t":68.7,"gh":"GH 4","v":18},{"t":69.0,"gh":"GH 4","v":16},{"t":72,"gh":"GH 4","v":16},
{"t":2,"gh":"GH 5","v":21},{"t":72,"gh":"GH 5","v":21}
]
},
"vconcat": [
{
 "width": 714, "height": 230,
 "layer": [
  {
   "data": {"name": "co2"},
   "transform": [{"fold": ["GH 1","GH 2","GH 3","GH 4","GH 5"], "as": ["gh","v"]}],
   "mark": {"type": "line", "strokeWidth": 2.5, "clip": true},
   "encoding": {
    "x": {"field": "t", "type": "quantitative", "scale": {"domain": [2,72], "nice": false, "zero": false}, "axis": {"values": [6,12,18,24,30,36,42,48,54,60,66,72], "labels": false, "title": null, "grid": true}},
    "y": {"field": "v", "type": "quantitative", "scale": {"domain": [265,586], "nice": false, "zero": false}, "axis": {"values": [300,350,400,450,500,550], "title": ["Indoor CO₂", "Level (ppm)"], "titleLineHeight": 20, "titlePadding": 8, "grid": true}},
    "color": {"field": "gh", "type": "nominal", "scale": {"domain": ["GH 1","GH 2","GH 3","GH 4","GH 5"], "range": ["#000000","#1a6fdf","#0db30d","#ffd700","#cd7f7a"]},
      "legend": {"orient": "none", "legendX": 506, "legendY": 209, "columns": 2, "title": null, "symbolType": "stroke", "symbolSize": 350, "symbolStrokeWidth": 2.5, "labelFontSize": 15, "labelFontWeight": "bold", "labelColor": "black", "labelOffset": 11, "columnPadding": 22, "rowPadding": 0, "padding": 3, "fillColor": "rgba(255,255,255,0.85)", "strokeColor": "#cccccc", "cornerRadius": 4}},
    "strokeDash": {"datum": "Measurement", "type": "nominal", "scale": {"domain": ["Measurement","Setpoint"], "range": [[1,0],[8,4]]},
      "legend": {"orient": "none", "legendX": 8, "legendY": 220, "title": null, "symbolType": "stroke", "symbolSize": 543, "symbolStrokeWidth": 1.8, "symbolStrokeColor": "black", "labelFontSize": 15, "labelFontWeight": "bold", "labelColor": "black", "labelOffset": 12, "rowPadding": 0, "padding": 2, "fillColor": "rgba(255,255,255,0.85)", "strokeColor": "#cccccc", "cornerRadius": 4}}
   }
  },
  {
   "data": {"name": "co2sp"},
   "mark": {"type": "line", "strokeWidth": 2.5, "clip": true},
   "encoding": {
    "x": {"field": "t", "type": "quantitative"},
    "y": {"field": "v", "type": "quantitative"},
    "color": {"field": "gh", "type": "nominal"},
    "strokeDash": {"datum": "Setpoint", "type": "nominal"}
   }
  }
 ]
},
{
 "width": 714, "height": 228,
 "layer": [
  {
   "data": {"name": "temp"},
   "transform": [{"fold": ["GH 1","GH 2","GH 3","GH 4","GH 5"], "as": ["gh","v"]}],
   "mark": {"type": "line", "strokeWidth": 2, "clip": true},
   "encoding": {
    "x": {"field": "t", "type": "quantitative", "scale": {"domain": [2,72], "nice": false, "zero": false}, "axis": {"values": [6,12,18,24,30,36,42,48,54,60,66,72], "grid": true, "title": "Time", "titlePadding": 2, "labelPadding": 2, "labelLineHeight": 20, "labelExpr": "datum.value % 24 == 0 ? ['', (datum.value == 24 ? '2ⁿᵈ' : datum.value == 48 ? '3ʳᵈ' : '4ᵗʰ'), 'day'] : ((datum.value % 24) < 10 ? '0' + (datum.value % 24) : '' + (datum.value % 24))"}},
    "y": {"field": "v", "type": "quantitative", "scale": {"domain": [15.37,25.44], "nice": false, "zero": false}, "axis": {"values": [16,18,20,22,24], "title": ["Indoor Temperature", "(°C)"], "titleLineHeight": 20, "titlePadding": 8, "grid": true}},
    "color": {"field": "gh", "type": "nominal", "scale": {"domain": ["GH 1","GH 2","GH 3","GH 4","GH 5"], "range": ["#000000","#1a6fdf","#0db30d","#ffd700","#cd7f7a"]}, "legend": null},
    "strokeDash": {"datum": "Measurement", "type": "nominal", "scale": {"domain": ["Measurement","Setpoint"], "range": [[1,0],[8,4]]}, "legend": null}
   }
  },
  {
   "data": {"name": "tempsp"},
   "mark": {"type": "line", "strokeWidth": 2.5, "clip": true},
   "encoding": {
    "x": {"field": "t", "type": "quantitative"},
    "y": {"field": "v", "type": "quantitative"},
    "color": {"field": "gh", "type": "nominal"},
    "strokeDash": {"datum": "Setpoint", "type": "nominal"}
   }
  }
 ]
}
]
}
